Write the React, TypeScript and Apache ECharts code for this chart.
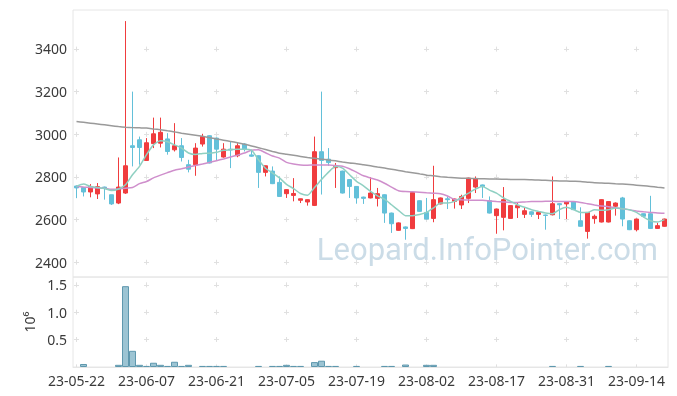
import React, { useEffect, useRef } from "react";
import * as echarts from "echarts";

const dates = [
  "23-05-22", "23-05-23", "23-05-24", "23-05-25", "23-05-26", "23-05-30", "23-05-31", "23-06-01", "23-06-02", "23-06-05",
  "23-06-07", "23-06-08", "23-06-09", "23-06-12", "23-06-13", "23-06-14", "23-06-15", "23-06-16", "23-06-19", "23-06-20",
  "23-06-21", "23-06-22", "23-06-23", "23-06-26", "23-06-27", "23-06-28", "23-06-29", "23-06-30", "23-07-03", "23-07-04",
  "23-07-05", "23-07-06", "23-07-07", "23-07-10", "23-07-11", "23-07-12", "23-07-13", "23-07-14", "23-07-17", "23-07-18",
  "23-07-19", "23-07-20", "23-07-21", "23-07-24", "23-07-25", "23-07-26", "23-07-27", "23-07-28", "23-07-31", "23-08-01",
  "23-08-02", "23-08-03", "23-08-04", "23-08-07", "23-08-08", "23-08-09", "23-08-10", "23-08-11", "23-08-14", "23-08-16",
  "23-08-17", "23-08-18", "23-08-21", "23-08-22", "23-08-23", "23-08-24", "23-08-25", "23-08-28", "23-08-29", "23-08-30",
  "23-08-31", "23-09-01", "23-09-04", "23-09-05", "23-09-06", "23-09-07", "23-09-08", "23-09-11", "23-09-12", "23-09-13",
  "23-09-14", "23-09-15", "23-09-18", "23-09-19", "23-09-20",
];

const opens = [
  2757, 2750, 2729, 2720, 2752, 2716, 2677, 2724, 2946, 2974,
  2877, 2956, 2958, 2978, 2927, 2946, 2857, 2857, 2954, 2993,
  2982, 2893, 2930, 2899, 2954, 2903, 2899, 2821, 2827, 2774,
  2721, 2713, 2690, 2682, 2666, 2918, 2883, 2843, 2827, 2787,
  2755, 2705, 2701, 2699, 2716, 2630, 2549, 2565, 2557, 2688,
  2633, 2605, 2673, 2697, 2685, 2668, 2699, 2752, 2762, 2688,
  2618, 2610, 2605, 2655, 2624, 2636, 2624, 2621, 2622, 2674,
  2673, 2682, 2594, 2544, 2604, 2588, 2588, 2662, 2701, 2594,
  2552, 2627, 2627, 2558, 2568,
];
const closes = [
  2748, 2729, 2754, 2754, 2748, 2673, 2752, 2852, 2938, 2938,
  2960, 3002, 3009, 2919, 2946, 2891, 2836, 2935, 2989, 2865,
  2930, 2930, 2926, 2946, 2930, 2897, 2821, 2852, 2768, 2708,
  2740, 2722, 2697, 2693, 2918, 2877, 2867, 2848, 2724, 2755,
  2701, 2699, 2724, 2721, 2630, 2580, 2584, 2558, 2727, 2638,
  2602, 2693, 2701, 2693, 2696, 2708, 2794, 2790, 2755, 2630,
  2649, 2693, 2665, 2665, 2641, 2624, 2633, 2619, 2674, 2669,
  2684, 2646, 2568, 2633, 2615, 2693, 2684, 2677, 2602, 2552,
  2602, 2615, 2558, 2571, 2602,
];
const lows = [
  2700, 2708, 2704, 2696, 2693, 2668, 2672, 2720, 2849, 2857,
  2875, 2935, 2938, 2904, 2919, 2872, 2821, 2805, 2942, 2863,
  2877, 2890, 2841, 2892, 2919, 2894, 2748, 2802, 2766, 2706,
  2701, 2685, 2677, 2665, 2663, 2717, 2852, 2748, 2722, 2701,
  2674, 2673, 2699, 2661, 2584, 2537, 2547, 2505, 2555, 2636,
  2600, 2587, 2671, 2649, 2651, 2649, 2677, 2724, 2701, 2628,
  2533, 2549, 2603, 2607, 2607, 2612, 2602, 2552, 2619, 2602,
  2602, 2644, 2566, 2510, 2580, 2586, 2586, 2618, 2568, 2550,
  2544, 2610, 2556, 2556, 2566,
];
const highs = [
  2760, 2752, 2766, 2771, 2754, 2716, 2891, 3531, 3200, 2989,
  2982, 3078, 3078, 3005, 3052, 2982, 2880, 2958, 3002, 2995,
  2985, 2958, 2966, 2958, 2958, 2927, 2901, 2853, 2849, 2802,
  2742, 2794, 2698, 2694, 2989, 3200, 2935, 2865, 2829, 2789,
  2757, 2707, 2799, 2748, 2718, 2632, 2586, 2567, 2729, 2690,
  2701, 2852, 2703, 2708, 2698, 2716, 2796, 2802, 2764, 2708,
  2651, 2752, 2667, 2677, 2657, 2638, 2635, 2623, 2802, 2676,
  2686, 2684, 2657, 2635, 2623, 2695, 2686, 2680, 2706, 2596,
  2604, 2629, 2711, 2584, 2604,
];

const ma5 = [
  2755, 2766, 2755, 2750, 2745, 2736, 2743, 2763, 2810, 2849,
  2904, 2950, 2969, 2965, 2950, 2935, 2912, 2905, 2910, 2911,
  2915, 2925, 2927, 2930, 2930, 2925, 2880, 2840, 2818, 2795,
  2765, 2745, 2722, 2714, 2750, 2787, 2822, 2848, 2841, 2810,
  2779, 2758, 2732, 2711, 2695, 2669, 2643, 2618, 2618, 2623,
  2633, 2654, 2677, 2677, 2685, 2705, 2724, 2743, 2755, 2738,
  2724, 2701, 2685, 2669, 2657, 2646, 2638, 2630, 2627, 2646,
  2657, 2646, 2633, 2633, 2646, 2643, 2646, 2654, 2650, 2646,
  2633, 2612, 2594, 2588, 2599,
];
const ma20 = [
  2755, 2752, 2750, 2748, 2746, 2742, 2743, 2747, 2750, 2768,
  2778, 2795, 2808, 2820, 2831, 2838, 2846, 2853, 2860, 2868,
  2876, 2884, 2893, 2902, 2912, 2925, 2927, 2913, 2898, 2888,
  2868, 2860, 2856, 2855, 2856, 2856, 2856, 2853, 2850, 2838,
  2822, 2805, 2795, 2785, 2770, 2752, 2735, 2731, 2730, 2728,
  2725, 2723, 2721, 2710, 2694, 2692, 2691, 2690, 2690, 2687,
  2684, 2682, 2680, 2680, 2682, 2684, 2684, 2685, 2685, 2684,
  2684, 2684, 2680, 2674, 2668, 2663, 2660, 2655, 2650, 2645,
  2640, 2636, 2633, 2630, 2629,
];
const ma60 = [
  3060, 3056, 3052, 3048, 3044, 3040, 3036, 3033, 3031, 3030,
  3029, 3025, 3021, 3016, 3011, 3005, 3000, 2995, 2990, 2984,
  2978, 2972, 2966, 2960, 2953, 2945, 2937, 2928, 2919, 2911,
  2906, 2901, 2896, 2891, 2887, 2883, 2879, 2875, 2870, 2865,
  2862, 2857, 2852, 2846, 2841, 2836, 2830, 2824, 2819, 2814,
  2808, 2805, 2801, 2798, 2796, 2794, 2793, 2792, 2791, 2790,
  2790, 2789, 2788, 2787, 2787, 2786, 2785, 2784, 2782, 2781,
  2780, 2779, 2778, 2775, 2772, 2771, 2770, 2768, 2766, 2764,
  2761, 2758, 2755, 2751, 2748,
];

// volume in millions of shares
const volumes = [
  0, 0.055, 0, 0, 0, 0, 0.04, 1.478, 0.296, 0.04,
  0.02, 0.078, 0.04, 0.02, 0.096, 0.02, 0.04, 0, 0.02, 0.02,
  0.02, 0.02, 0, 0, 0, 0, 0.02, 0, 0.02, 0.02,
  0.04, 0.02, 0.02, 0, 0.09, 0.115, 0.02, 0.02, 0, 0,
  0.02, 0, 0, 0, 0.02, 0.02, 0, 0.045, 0, 0,
  0.04, 0.04, 0, 0, 0, 0, 0, 0, 0, 0,
  0, 0, 0, 0, 0, 0, 0, 0, 0.02, 0,
  0, 0, 0.02, 0, 0, 0, 0.02, 0, 0, 0,
  0, 0, 0, 0, 0,
];

export default function App() {
  const ref = useRef<HTMLDivElement>(null);
  useEffect(() => {
    const chart = echarts.init(ref.current!, null, { renderer: "svg" });
    const font = "'Noto Sans', sans-serif";
    const labelColor = "#3a3a3a";
    const crossColor = "#e0e0e0";
    const candle = dates.map((_, i) => [opens[i], closes[i], lows[i], highs[i]]);
    const volData = volumes.map((v) => (v === 0 ? null : v));
    chart.setOption({
      animation: false,
      textStyle: { fontFamily: font },
      grid: [
        { left: 73, right: 9, top: 10, height: 267, show: true, borderColor: "#e6e6e6", borderWidth: 1 },
        { left: 73, right: 9, top: 277, height: 90, show: true, borderColor: "#e6e6e6", borderWidth: 1 },
      ],
      xAxis: [
        {
          type: "category",
          gridIndex: 0,
          data: dates,
          boundaryGap: true,
          axisLine: { show: false },
          axisTick: { show: false },
          axisLabel: { show: false, interval: 9 },
          splitLine: {
            show: true,
            interval: 9,
            alignWithLabel: true,
            lineStyle: { color: crossColor, width: 1, type: [5, 37.62], dashOffset: 6.12 },
          },
        },
        {
          type: "category",
          gridIndex: 1,
          data: dates,
          boundaryGap: true,
          axisLine: { show: true, lineStyle: { color: "#e6e6e6" } },
          axisTick: { show: false },
          axisLabel: { interval: 9, color: labelColor, fontSize: 14, margin: 6, fontFamily: font },
          splitLine: {
            show: true,
            interval: 9,
            alignWithLabel: true,
            lineStyle: { color: crossColor, width: 1, type: [5, 22.34], dashOffset: 21.84 },
          },
        },
      ],
      yAxis: [
        {
          type: "value",
          gridIndex: 0,
          min: 2330,
          max: 3583,
          splitNumber: 6,
          axisLine: { show: false },
          axisTick: { show: false },
          axisLabel: {
            showMinLabel: false,
            showMaxLabel: false,
            color: labelColor,
            fontSize: 14,
            margin: 6,
            fontFamily: font,
            formatter: (v: number) => String(v),
          },
          splitLine: {
            show: true,
            showMinLine: false,
            showMaxLine: false,
            lineStyle: { color: crossColor, width: 1, type: [5, 65], dashOffset: 69 },
          },
        },
        {
          type: "value",
          gridIndex: 1,
          min: 0,
          max: 1.646,
          interval: 0.5,
          name: "10⁶",
          nameLocation: "middle",
          nameRotate: 90,
          nameGap: 33,
          nameTextStyle: { color: labelColor, fontSize: 14, fontFamily: font },
          axisLine: { show: false },
          axisTick: { show: false },
          axisLabel: {
            showMinLabel: false,
            showMaxLabel: false,
            color: labelColor,
            fontSize: 14,
            margin: 6,
            fontFamily: font,
            formatter: (v: number) => v.toFixed(1),
          },
          splitLine: {
            show: true,
            showMinLine: false,
            showMaxLine: false,
            lineStyle: { color: crossColor, width: 1, type: [5, 65], dashOffset: 69 },
          },
        },
      ],
      graphic: [
        {
          type: "text",
          right: 19,
          top: 234,
          z: 0,
          silent: true,
          style: {
            text: "Leopard.InfoPointer.com",
            fill: "#cbdce7",
            fontSize: 31,
            fontFamily: "Roboto, sans-serif",
          },
        },
      ],
      series: [
        {
          type: "candlestick",
          xAxisIndex: 0,
          yAxisIndex: 0,
          data: candle,
          barWidth: 5,
          itemStyle: {
            color: "#f03c3e",
            color0: "#63c0d9",
            borderColor: "#f03c3e",
            borderColor0: "#63c0d9",
            borderWidth: 1,
          },
        },
        {
          type: "line",
          xAxisIndex: 0,
          yAxisIndex: 0,
          data: ma60,
          symbol: "none",
          smooth: 0.2,
          lineStyle: { color: "#9a9a9a", width: 1.5 },
        },
        {
          type: "line",
          xAxisIndex: 0,
          yAxisIndex: 0,
          data: ma20,
          symbol: "none",
          smooth: 0.2,
          lineStyle: { color: "#cf8fcc", width: 1.5 },
        },
        {
          type: "line",
          xAxisIndex: 0,
          yAxisIndex: 0,
          data: ma5,
          symbol: "none",
          smooth: 0.2,
          lineStyle: { color: "#8fd0c2", width: 1.5 },
        },
        {
          type: "bar",
          xAxisIndex: 1,
          yAxisIndex: 1,
          data: volData,
          barCategoryGap: "0%",
          itemStyle: { color: "#9cc4d3", borderColor: "#5f98ae", borderWidth: 1 },
        },
      ],
    });
    return () => chart.dispose();
  }, []);
  return <div ref={ref} style={{ position: "fixed", left: 0, top: 0, width: 677, height: 396 }} />;
}
